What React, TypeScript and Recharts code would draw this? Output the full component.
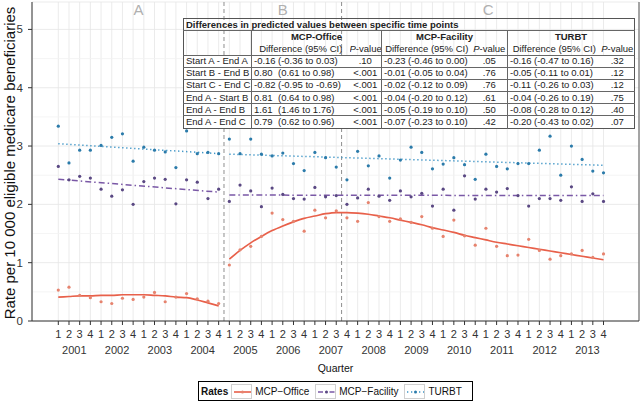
import React from 'react';
import { ComposedChart, Line, XAxis, YAxis, CartesianGrid, ReferenceLine, ReferenceDot } from 'recharts';

const years = [2001, 2002, 2003, 2004, 2005, 2006, 2007, 2008, 2009, 2010, 2011, 2012, 2013];
const quarterNames = ['1', '2', '3', '4'];

// observed quarterly rates per 10 000
const officeRate = [
  0.53, 0.58, 0.44, 0.40, 0.33, 0.30, 0.39, 0.37, 0.41, 0.49, 0.33, 0.41, 0.47, 0.38, 0.34, 0.30,
  0.96, 1.22, 1.28, 1.45, 1.85, 1.74, 1.71, 1.54, 1.90, 1.77,
  1.89, 1.77, 1.71, 2.03, 1.79, 1.71, 1.75, 1.69, 1.79, 1.59,
  1.45, 1.73, 1.46, 1.30, 1.59, 1.28, 1.12, 1.13, 1.40, 1.21,
  1.06, 1.12, 1.15, 1.21, 1.09, 1.15,
];
const facilityRate = [
  2.65, 2.42, 2.48, 2.45, 2.26, 2.14, 2.25, 2.00, 2.39, 2.45, 2.43, 2.01, 2.42, 2.38, 2.10, 2.26,
  2.05, 2.33, 2.23, 1.96, 2.28, 2.17, 2.10, 2.09, 2.29, 2.13,
  2.15, 2.00, 2.11, 2.26, 2.14, 2.07, 2.23, 2.13, 2.19, 1.97,
  2.26, 1.90, 2.49, 2.09, 2.26, 2.21, 2.27, 2.15, 1.97, 2.10,
  2.10, 2.07, 2.30, 2.05, 2.18, 2.05,
];
const turbtRate = [
  3.34, 2.71, 2.93, 2.93, 3.01, 3.15, 3.21, 2.74, 2.98, 2.93, 2.90, 2.63, 3.26, 2.87, 2.89, 2.87,
  3.12, 2.87, 3.12, 2.86, 2.83, 2.88, 2.70, 2.58, 2.89, 2.80,
  2.64, 2.42, 2.91, 2.66, 2.83, 2.45, 2.76, 2.98, 2.89, 2.61,
  2.69, 2.80, 2.68, 2.43, 2.86, 2.65, 2.61, 2.70, 2.70, 2.93,
  3.17, 2.50, 3.00, 2.77, 2.57, 2.54,
];

// predicted (fitted) values
const officeFitA = [0.41, 0.42, 0.43, 0.43, 0.44, 0.44, 0.45, 0.45, 0.45, 0.44, 0.43, 0.41, 0.40, 0.36, 0.31, 0.26];
const officeFitBC = [
  1.06, 1.21, 1.34, 1.45, 1.55, 1.63, 1.70, 1.76, 1.80, 1.84,
  1.86, 1.86, 1.85, 1.83, 1.80, 1.77, 1.73, 1.69, 1.65, 1.60,
  1.56, 1.52, 1.47, 1.43, 1.39, 1.35, 1.32, 1.29, 1.26, 1.23,
  1.20, 1.17, 1.14, 1.11, 1.08, 1.05,
];
const segmentStart = [0, 16];
const segmentEnd = [15, 51];
const facilityFitFrom = [2.43, 2.16];
const facilityFitTo = [2.21, 2.15];
const turbtFitFrom = [3.04, 2.86];
const turbtFitTo = [2.87, 2.67];

const periodBreaks = [15.5, 26.5];
const periodNames = ['A', 'B', 'C'];
const periodCenters = [7.5, 21, 40.2];

// table
const rowLabels = ['Start A - End A', 'Start B - End B', 'Start C - End C', 'End A - Start B', 'End A - End B', 'End A - End C'];
const officeDiff = ['-0.16', '0.80', '-0.82', '0.81', '1.61', '0.79'];
const officeCI = ['(-0.36 to 0.03)', '(0.61 to 0.98)', '(-0.95 to -0.69)', '(0.64 to 0.98)', '(1.46 to 1.76)', '(0.62 to 0.96)'];
const officeP = ['.10', '<.001', '<.001', '<.001', '<.001', '<.001'];
const facilityDiff = ['-0.23', '-0.01', '-0.02', '-0.04', '-0.05', '-0.07'];
const facilityCI = ['(-0.46 to 0.00)', '(-0.05 to 0.04)', '(-0.12 to 0.09)', '(-0.20 to 0.12)', '(-0.19 to 0.10)', '(-0.23 to 0.10)'];
const facilityP = ['.05', '.76', '.76', '.61', '.50', '.42'];
const turbtDiff = ['-0.16', '-0.05', '-0.11', '-0.04', '-0.08', '-0.20'];
const turbtCI = ['(-0.47 to 0.16)', '(-0.11 to 0.01)', '(-0.26 to 0.03)', '(-0.26 to 0.19)', '(-0.28 to 0.12)', '(-0.43 to 0.02)'];
const turbtP = ['.32', '.12', '.12', '.75', '.40', '.07'];

const FONT = '"Liberation Sans", Arial, sans-serif';
const OFFICE_LINE = '#E8604A';
const OFFICE_DOT = '#E6836E';
const FAC_LINE = '#7A58A6';
const FAC_DOT = '#5A4883';
const TURBT_LINE = '#3E95C6';
const TURBT_DOT = '#2B7BAA';

const X_MIN = -2.46;
const X_MAX = 54.32;
const Y_MAX = 5.47;

const rows = officeRate.map((v, i) => ({
  idx: i,
  office: v,
  facility: facilityRate[i],
  turbt: turbtRate[i],
  officeFitA: i <= segmentEnd[0] ? officeFitA[i] : null,
  officeFitBC: i >= segmentStart[1] ? officeFitBC[i - segmentStart[1]] : null,
}));

const quarterTicks = rows.map((r) => r.idx);
const yearTicks = years.map((_, k) => k * 4 + 1.5);
const minorY = [0.5, 1.5, 2.5, 3.5, 4.5];

const YTitle = () => (
  <text x={9} y={163} transform="rotate(-90 9 163)" textAnchor="middle" dominantBaseline="central"
    fontSize={15} fill="#111" fontFamily={FONT}>
    Rate per 10 000 eligible medicare beneficiaries
  </text>
);

const line = '1px solid #666';

function DiffCell({ est, ci, left }: { est: string; ci: string; left?: boolean }) {
  return (
    <td style={{ paddingLeft: 2, whiteSpace: 'nowrap', borderLeft: left ? line : undefined, borderTop: line }}>
      <span style={{ display: 'inline-block', width: 24 }}>{est}</span>{ci}
    </td>
  );
}

function ResultsTable() {
  const head: React.CSSProperties = { textAlign: 'center', whiteSpace: 'nowrap' };
  return (
    <>
      <style>{'.rt td{padding:0;overflow:hidden;}'}</style>
      <table className="rt" style={{
        position: 'absolute', left: 183, top: 18, width: 451, borderCollapse: 'collapse', tableLayout: 'fixed',
        fontSize: 9.5, fontFamily: FONT, color: '#222', border: '1px solid #555', lineHeight: '10px',
      }}>
        <colgroup>
          {[68, 98, 32, 90, 36, 93, 34].map((w, i) => <col key={i} style={{ width: w }} />)}
        </colgroup>
        <tbody>
          <tr style={{ height: 12 }}>
            <td colSpan={7} style={{ fontWeight: 'bold', paddingLeft: 2, whiteSpace: 'nowrap' }}>
              Differences in predicted values between specific time points
            </td>
          </tr>
          <tr style={{ height: 12 }}>
            <td style={{ borderTop: line }} />
            <td colSpan={2} style={{ ...head, fontWeight: 'bold', borderTop: line, borderLeft: line }}>MCP-Office</td>
            <td colSpan={2} style={{ ...head, fontWeight: 'bold', borderTop: line, borderLeft: line }}>MCP-Facility</td>
            <td colSpan={2} style={{ ...head, fontWeight: 'bold', borderTop: line, borderLeft: line }}>TURBT</td>
          </tr>
          <tr style={{ height: 12.5 }}>
            <td />
            <td style={{ ...head, borderLeft: line }}>Difference (95% CI)</td>
            <td style={head}><i>P</i>-value</td>
            <td style={{ ...head, borderLeft: line }}>Difference (95% CI)</td>
            <td style={head}><i>P</i>-value</td>
            <td style={{ ...head, borderLeft: line }}>Difference (95% CI)</td>
            <td style={head}><i>P</i>-value</td>
          </tr>
          {rowLabels.map((lab, i) => (
            <tr key={lab} style={{ height: 12.2, background: '#fff' }}>
              <td style={{ paddingLeft: 2, whiteSpace: 'nowrap', borderTop: line }}>{lab}</td>
              <DiffCell est={officeDiff[i]} ci={officeCI[i]} left />
              <td style={{ ...head, borderTop: line }}>{officeP[i]}</td>
              <DiffCell est={facilityDiff[i]} ci={facilityCI[i]} left />
              <td style={{ ...head, borderTop: line }}>{facilityP[i]}</td>
              <DiffCell est={turbtDiff[i]} ci={turbtCI[i]} left />
              <td style={{ ...head, borderTop: line }}>{turbtP[i]}</td>
            </tr>
          ))}
        </tbody>
      </table>
    </>
  );
}

const legendItems = [
  { name: 'MCP\u2212Office', color: OFFICE_LINE, dot: OFFICE_DOT, dash: undefined },
  { name: 'MCP\u2212Facility', color: FAC_LINE, dot: FAC_DOT, dash: '5 2.5 1.5 2.5' },
  { name: 'TURBT', color: TURBT_LINE, dot: TURBT_DOT, dash: '1.3 2.7' },
];

function RatesLegend() {
  return (
    <div style={{
      position: 'absolute', left: 198, top: 381, width: 275, height: 20, boxSizing: 'border-box',
      border: '1px solid #000', display: 'flex', alignItems: 'center', fontFamily: FONT, fontSize: 10, color: '#111',
    }}>
      <b style={{ marginLeft: 2, marginRight: 3 }}>Rates</b>
      {legendItems.map((it, i) => (
        <React.Fragment key={it.name}>
          <svg width={21} height={15} style={{ marginLeft: i === 0 ? 0 : 6, border: '1px solid #d0d0d0', boxSizing: 'border-box' }}>
            <line x1={2} x2={19} y1={7} y2={7} stroke={it.color} strokeWidth={1.6} strokeDasharray={it.dash} />
            <circle cx={10.5} cy={7} r={1.5} fill={it.dot} />
          </svg>
          <span style={{ marginLeft: 3 }}>{it.name}</span>
        </React.Fragment>
      ))}
    </div>
  );
}

export default function App() {
  return (
    <div style={{ position: 'absolute', left: 0, top: 0, width: 640, height: 407, background: '#fff', fontFamily: FONT }}>
      <ComposedChart width={640} height={407} data={rows} margin={{ top: 2, right: 1, bottom: 0, left: 0 }}>
        <CartesianGrid xAxisId="q" stroke="#E6E6E6" strokeWidth={0.8} />
        {minorY.map((v) => (
          <ReferenceLine key={v} xAxisId="q" y={v} stroke="#F1F1F1" strokeWidth={0.8} />
        ))}
        <XAxis xAxisId="q" type="number" dataKey="idx" domain={[X_MIN, X_MAX]} ticks={quarterTicks} interval={0}
          allowDataOverflow height={16} tickSize={4} tickMargin={5}
          tickFormatter={(v: number) => quarterNames[v % 4]}
          tick={{ fontSize: 11, fill: '#333', fontFamily: FONT }}
          axisLine={{ stroke: '#333' }} tickLine={{ stroke: '#333' }} />
        <XAxis xAxisId="yr" type="number" dataKey="idx" domain={[X_MIN, X_MAX]} ticks={yearTicks} interval={0}
          allowDataOverflow height={70} tickSize={0} tickMargin={9} axisLine={false} tickLine={false}
          tickFormatter={(v: number) => String(years[Math.floor(v / 4)])}
          tick={{ fontSize: 11, fill: '#333', fontFamily: FONT }}
          label={{ value: 'Quarter', position: 'insideBottom', offset: 35, fontSize: 10.5, fill: '#111', fontFamily: FONT }} />
        <YAxis domain={[0, Y_MAX]} ticks={[0, 1, 2, 3, 4, 5]} width={32} tickSize={4} tickMargin={5}
          allowDataOverflow tick={{ fontSize: 11.5, fill: '#333', fontFamily: FONT }}
          axisLine={{ stroke: '#333' }} tickLine={{ stroke: '#333' }} label={<YTitle />} />
        <ReferenceLine xAxisId="q" x={X_MAX} stroke="#555" />
        {periodBreaks.map((b) => (
          <ReferenceLine key={b} xAxisId="q" x={b} stroke="#8f8f8f" strokeDasharray="4 3" />
        ))}
        {periodNames.map((n, i) => (
          <ReferenceDot key={n} xAxisId="q" x={periodCenters[i]} y={5.33} r={0} fill="none" stroke="none"
            label={{ value: n, position: 'center', fontSize: 15, fill: '#b0b0b0', fontFamily: FONT }} />
        ))}

        <Line xAxisId="q" dataKey="turbt" stroke="none" dot={{ r: 1.6, fill: TURBT_DOT, stroke: 'none' }}
          activeDot={false} isAnimationActive={false} />
        <Line xAxisId="q" dataKey="facility" stroke="none" dot={{ r: 1.6, fill: FAC_DOT, stroke: 'none' }}
          activeDot={false} isAnimationActive={false} />
        <Line xAxisId="q" dataKey="office" stroke="none" dot={{ r: 1.6, fill: OFFICE_DOT, stroke: 'none' }}
          activeDot={false} isAnimationActive={false} />

        {segmentStart.map((s, k) => (
          <ReferenceLine key={'t' + k} xAxisId="q"
            segment={[{ x: s, y: turbtFitFrom[k] }, { x: segmentEnd[k], y: turbtFitTo[k] }]}
            stroke={TURBT_LINE} strokeWidth={1.5} strokeDasharray="1.3 2.7" />
        ))}
        {segmentStart.map((s, k) => (
          <ReferenceLine key={'f' + k} xAxisId="q"
            segment={[{ x: s, y: facilityFitFrom[k] }, { x: segmentEnd[k], y: facilityFitTo[k] }]}
            stroke={FAC_LINE} strokeWidth={1.5} strokeDasharray="6 3 1.5 3" />
        ))}
        <Line xAxisId="q" dataKey="officeFitA" type="monotone" stroke={OFFICE_LINE} strokeWidth={1.7} dot={false}
          activeDot={false} isAnimationActive={false} />
        <Line xAxisId="q" dataKey="officeFitBC" type="monotone" stroke={OFFICE_LINE} strokeWidth={1.7} dot={false}
          activeDot={false} isAnimationActive={false} />
      </ComposedChart>
      <ResultsTable />
      <RatesLegend />
    </div>
  );
}
